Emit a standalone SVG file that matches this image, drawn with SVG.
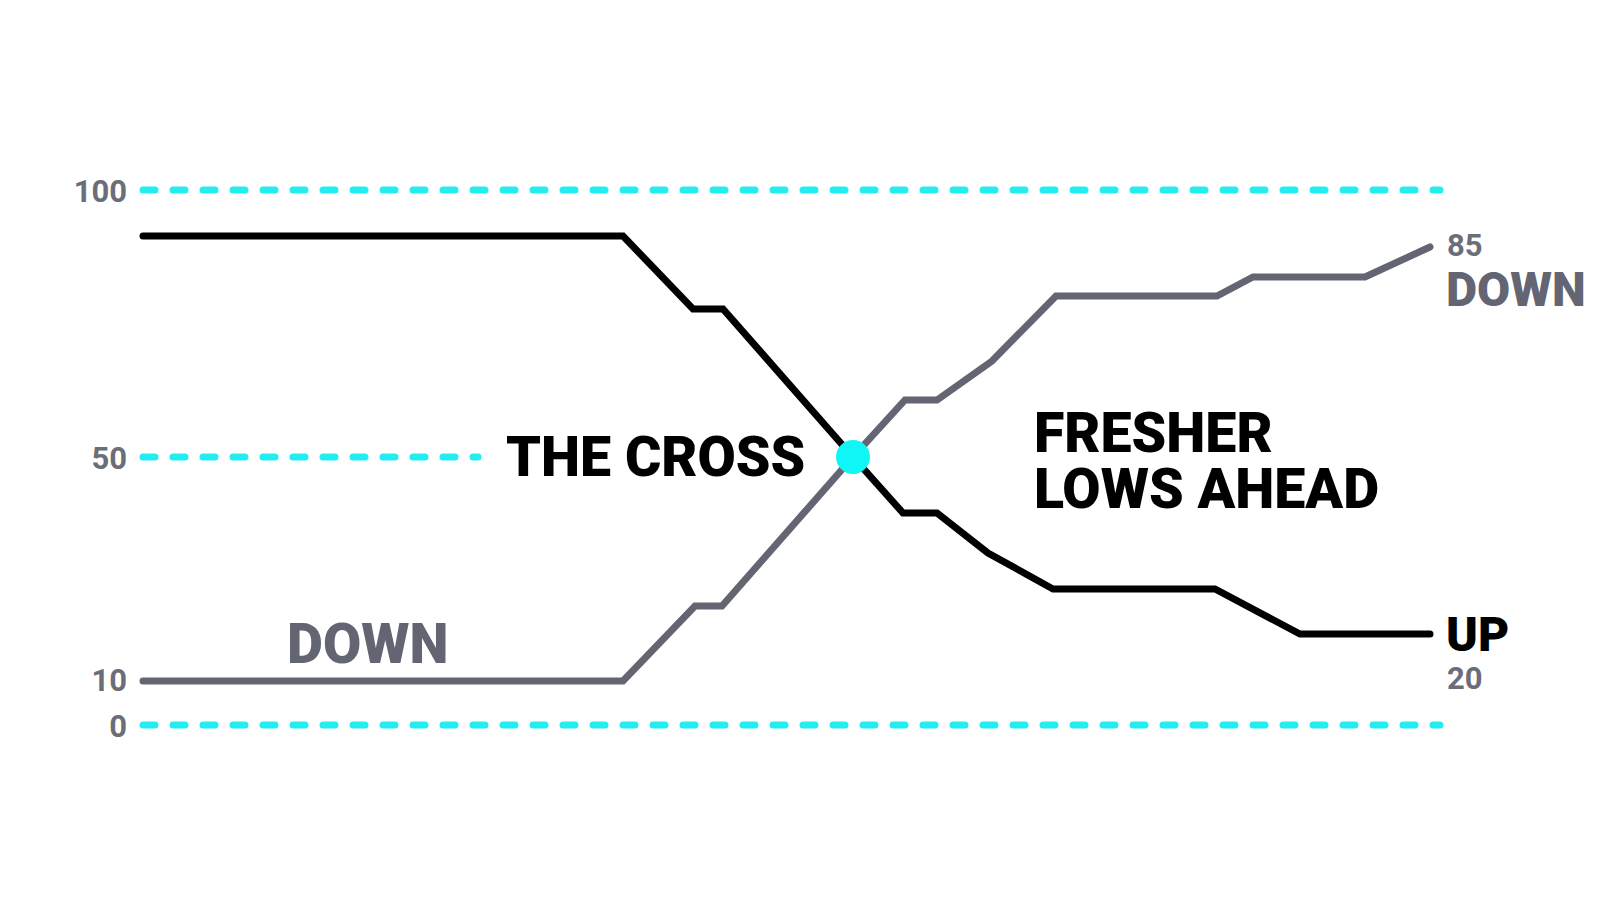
<svg xmlns="http://www.w3.org/2000/svg" width="1600" height="914" viewBox="0 0 1600 914">
<style>
.grid{fill:none;stroke:#22edf0;stroke-width:7;stroke-linecap:round;stroke-dasharray:12 18}
.line{fill:none;stroke-width:7;stroke-linecap:round;stroke-linejoin:miter}
.axis{font-family:Roboto,"Liberation Sans",sans-serif;font-weight:700;font-size:31px;fill:#6b6e78}
.big{font-family:Roboto,"Liberation Sans",sans-serif;font-weight:900;font-size:55.5px;fill:#000}
.end{font-family:Roboto,"Liberation Sans",sans-serif;font-weight:900;font-size:48px}
</style>
<rect width="1600" height="914" fill="#fff"/>
<g id="gridlines">
<line class="grid" x1="143" y1="190" x2="1440" y2="190"/>
<line class="grid" x1="143" y1="457" x2="478" y2="457"/>
<line class="grid" x1="143" y1="725" x2="1440" y2="725"/>
</g>
<g id="axis-labels">
<text class="axis" x="127" y="202" text-anchor="end">100</text>
<text class="axis" x="127" y="469" text-anchor="end">50</text>
<text class="axis" x="127" y="691" text-anchor="end">10</text>
<text class="axis" x="127" y="737" text-anchor="end">0</text>
</g>
<g id="connectors">
<path class="line" stroke="#000" d="M143,236 L623,236 L693,309 L723,309 L853,457 L903,513 L937,513 L988,553 L1053,589 L1215,589 L1300,634 L1430,634"/>
<path class="line" stroke="#636672" d="M143,681 L623,681 L695,606 L722,606 L853,457 L905,400 L937,400 L992,361 L1056,296 L1217,296 L1253,277 L1365,277 L1430,247"/>
</g>
<g id="cross-point">
<circle cx="853" cy="457" r="17" fill="#10f5f5"/>
</g>
<g id="label-cross">
<text class="big" x="506" y="476">THE CROSS</text>
</g>
<g id="label-fresher">
<text class="big" x="1034" y="452">FRESHER</text>
<text class="big" x="1034" y="508">LOWS AHEAD</text>
</g>
<g id="label-down-left">
<text class="big" x="287" y="663" style="fill:#636672">DOWN</text>
</g>
<g id="label-right-top">
<text class="axis" x="1447" y="256">85</text>
<text class="end" x="1446" y="306" fill="#636672">DOWN</text>
</g>
<g id="label-right-bottom">
<text class="end" x="1446" y="651" fill="#000">UP</text>
<text class="axis" x="1447" y="689">20</text>
</g>
</svg>
